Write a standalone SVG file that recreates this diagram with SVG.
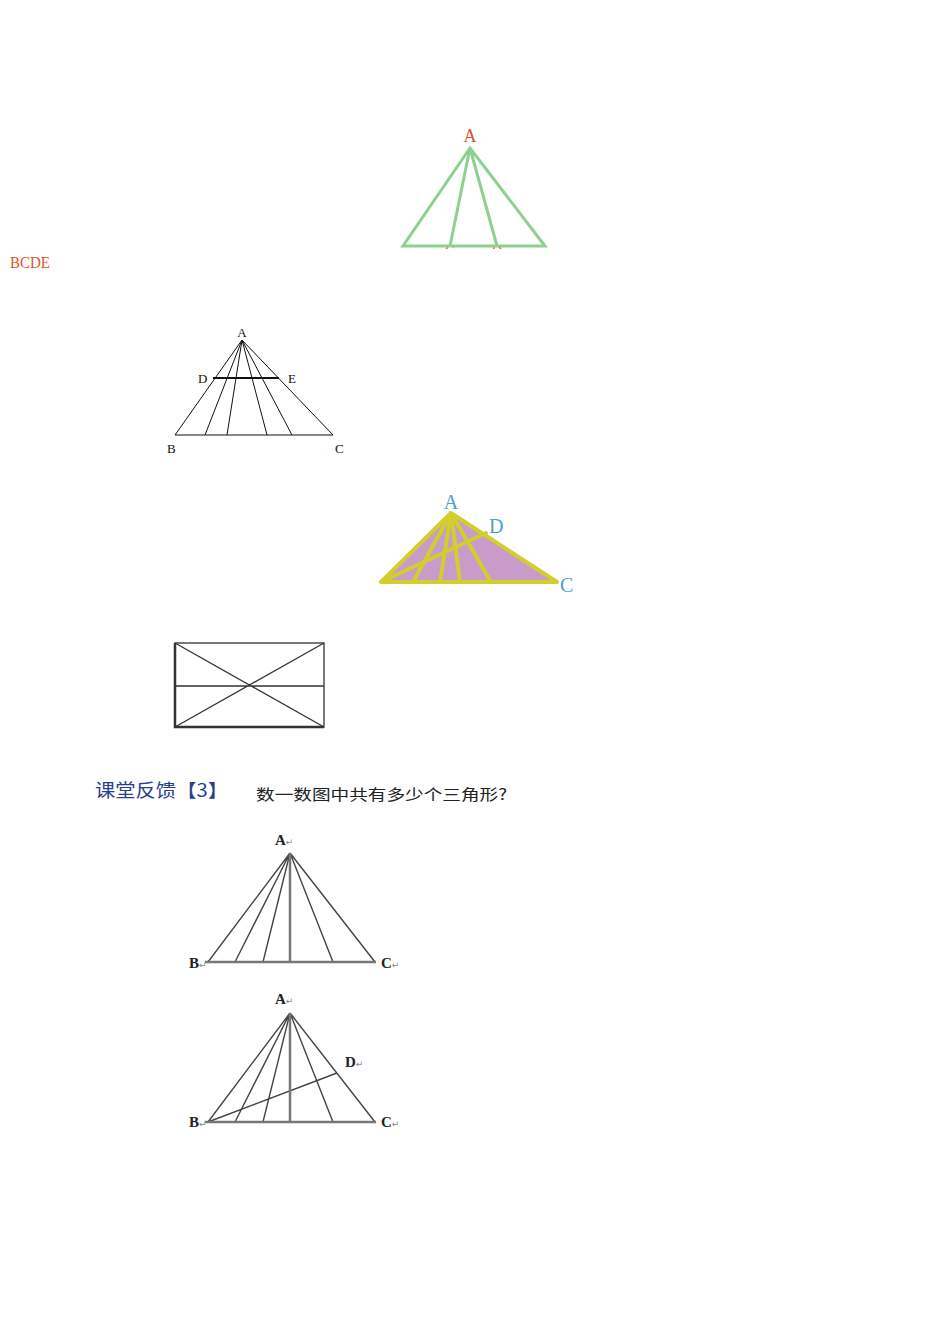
<svg xmlns="http://www.w3.org/2000/svg" width="950" height="1318" viewBox="0 0 950 1318">
<style>
.g1{stroke:#8fcf8f;stroke-width:3;fill:none;stroke-linecap:round}
.o{font-family:"Liberation Serif",serif;fill:#e0532c}
.bk{stroke:#111;stroke-width:1;fill:none}
.s2{font-family:"Liberation Serif",serif;font-size:13px;fill:#111}
.y{stroke:#d2cf2c;stroke-width:4;fill:none;stroke-linecap:round;stroke-linejoin:round}
.bl{font-family:"Liberation Serif",serif;font-size:20px;fill:#4a9fd0}
.r{stroke:#333;stroke-width:1.3;fill:none}
.gl{stroke:#444;stroke-width:1.4;fill:none}
.gt{stroke:#777;stroke-width:2.5;fill:none}
.lb{font-family:"Liberation Serif",serif;font-size:15px;font-weight:bold;fill:#222}
.ret{font-family:"DejaVu Sans",sans-serif;font-size:9px;font-weight:normal;fill:#888}
</style>
<defs>
<clipPath id="cut"><rect x="430" y="236" width="90" height="13"/></clipPath>
</defs>
<rect width="950" height="1318" fill="#fff"/>

<g id="fig1">
<text class="o" x="470" y="142" font-size="18" text-anchor="middle">A</text>
<g clip-path="url(#cut)">
<text class="o" x="450" y="256" font-size="15" text-anchor="middle">C</text>
<text class="o" x="497" y="256" font-size="15" text-anchor="middle">D</text>
</g>
<path class="g1" d="M470 148 L403 246 L545 246 Z M470 148 L450 246 M470 148 L497 246"/>
</g>

<g id="label-bcde">
<text class="o" x="10" y="268" font-size="17" textLength="40" lengthAdjust="spacingAndGlyphs">BCDE</text>
</g>

<g id="fig2">
<path class="bk" d="M242 340 L175 435 L333 435 Z M242 340 L205 435 M242 340 L227 435 M242 340 L267 435 M242 340 L292 435"/>
<line x1="213" y1="378" x2="279" y2="378" stroke="#111" stroke-width="2"/>
<text class="s2" x="242" y="337" text-anchor="middle">A</text>
<text class="s2" x="198" y="383">D</text>
<text class="s2" x="288" y="383">E</text>
<text class="s2" x="167" y="453">B</text>
<text class="s2" x="335" y="453">C</text>
</g>

<g id="fig3">
<path d="M451 513 L381 582 L557 582 Z" fill="#c89bcb"/>
<path class="y" d="M451 513 L381 582 L557 582 Z M451 513 L413 582 M451 513 L440 582 M451 513 L460 582 M451 513 L491 582 M381 582 L486 533"/>
<text class="bl" x="451" y="509" text-anchor="middle">A</text>
<text class="bl" x="489" y="533">D</text>
<text class="bl" x="560" y="592">C</text>
</g>

<g id="fig4">
<rect class="r" x="175" y="643" width="149" height="84"/>
<path class="r" d="M175 686 L324 686 M175 643 L324 727 M175 727 L324 643"/>
<path d="M175 643 L175 727 L324 727" stroke="#333" stroke-width="2.5" fill="none"/>
</g>

<g id="heading">
<text x="95" y="797" font-family="'Noto Sans CJK SC',serif" font-size="18" fill="#27408d" textLength="133" lengthAdjust="spacingAndGlyphs">课堂反馈【3】</text>
<text x="256" y="800" font-family="'Noto Sans CJK SC',serif" font-size="15" fill="#222" textLength="251" lengthAdjust="spacingAndGlyphs">数一数图中共有多少个三角形?</text>
</g>

<g id="fig5">
<path class="gl" d="M290 853 L208 962 M290 853 L375 962 M290 853 L235 962 M290 853 L263 962 M290 853 L333 962"/>
<path class="gt" d="M290 853 L290 962 M205 962 L376 962"/>
<text class="lb" x="275" y="845">A<tspan class="ret">↵</tspan></text>
<text class="lb" x="189" y="968">B<tspan class="ret">↵</tspan></text>
<text class="lb" x="381" y="968">C<tspan class="ret">↵</tspan></text>
</g>

<g id="fig6">
<path class="gl" d="M290 1013 L208 1122 M290 1013 L375 1122 M290 1013 L235 1122 M290 1013 L263 1122 M290 1013 L333 1122 M208 1122 L337 1073"/>
<path class="gt" d="M290 1013 L290 1122 M205 1122 L376 1122"/>
<text class="lb" x="275" y="1004">A<tspan class="ret">↵</tspan></text>
<text class="lb" x="345" y="1067">D<tspan class="ret">↵</tspan></text>
<text class="lb" x="189" y="1127">B<tspan class="ret">↵</tspan></text>
<text class="lb" x="381" y="1127">C<tspan class="ret">↵</tspan></text>
</g>
</svg>
